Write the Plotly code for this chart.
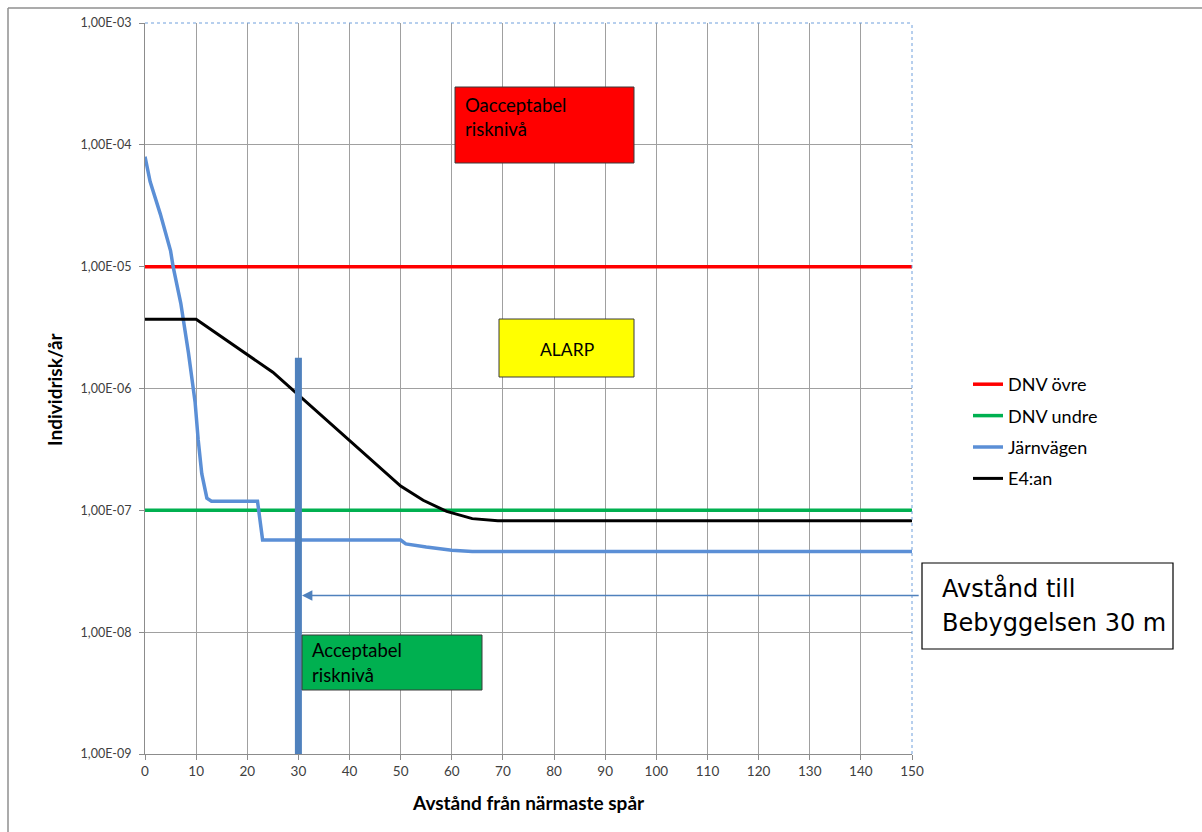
import math
import plotly.graph_objects as go

# Avstånd (m) och individrisk per år
dnv_ovre_x = [0, 150]
dnv_ovre_y = [1e-5, 1e-5]

dnv_undre_x = [0, 150]
dnv_undre_y = [1e-7, 1e-7]

jarnvagen_x = [0, 1, 3, 5, 5.5, 7, 8.5, 9.8, 10.4, 11.1, 12.1, 13, 22, 23,
               50, 51, 55, 60, 64, 150]
jarnvagen_y = [8.0e-5, 5.0e-5, 2.7e-5, 1.35e-5, 1.0e-5, 5.0e-6, 1.96e-6, 7.7e-7,
               3.8e-7, 2.0e-7, 1.26e-7, 1.19e-7, 1.19e-7, 5.7e-8,
               5.7e-8, 5.3e-8, 5.0e-8, 4.7e-8, 4.6e-8, 4.6e-8]

e4_x = [0, 10, 25, 50, 54.4, 59, 64, 69, 150]
e4_y = [3.7e-6, 3.7e-6, 1.36e-6, 1.58e-7, 1.21e-7, 9.8e-8, 8.55e-8, 8.2e-8, 8.2e-8]

# Bebyggelsens avstånd till spåret
bebyggelse_avstand = 30
bebyggelse_x = [bebyggelse_avstand, bebyggelse_avstand]
bebyggelse_y = [1e-9, 1.79e-6]
pil_niva = 2e-8

y_tickvals = [1e-9, 1e-8, 1e-7, 1e-6, 1e-5, 1e-4, 1e-3]
y_ticktext = ["1,00E-09", "1,00E-08", "1,00E-07", "1,00E-06", "1,00E-05",
              "1,00E-04", "1,00E-03"]
x_tickvals = list(range(0, 151, 10))

FONT = "Lato"
W, H = 1202, 832
ML, MR, MT, MB = 145, 290, 23, 78
PW, PH = W - ML - MR, H - MT - MB


def px(xp):
    return (xp - ML) / PW


def py(yp):
    return (H - MB - yp) / PH


fig = go.Figure()

fig.add_trace(go.Scatter(x=dnv_ovre_x, y=dnv_ovre_y, mode="lines", name="DNV övre",
                         legendgroup="a", line=dict(color="#FF0000", width=3.5)))
fig.add_trace(go.Scatter(x=dnv_undre_x, y=dnv_undre_y, mode="lines", name="DNV undre",
                         legendgroup="b", line=dict(color="#00B050", width=3.5)))
fig.add_trace(go.Scatter(x=jarnvagen_x, y=jarnvagen_y, mode="lines", name="Järnvägen",
                         legendgroup="c", line=dict(color="#5B8FD6", width=3.5)))
fig.add_trace(go.Scatter(x=e4_x, y=e4_y, mode="lines", name="E4:an",
                         legendgroup="d", line=dict(color="#000000", width=3)))
fig.add_trace(go.Scatter(x=bebyggelse_x, y=bebyggelse_y, mode="lines", showlegend=False,
                         line=dict(color="#4F81BD", width=7), hoverinfo="skip"))

shapes = []
# outer chart frame
frame_x = px(8)
frame_y = py(8)
shapes.append(dict(type="line", xref="paper", yref="paper", x0=frame_x, x1=frame_x,
                   y0=py(H + 5), y1=frame_y, line=dict(color="#8f8f8f", width=1.5)))
shapes.append(dict(type="line", xref="paper", yref="paper", x0=frame_x, x1=px(W + 5),
                   y0=frame_y, y1=frame_y, line=dict(color="#8f8f8f", width=1.5)))
# dashed plot-area edge (top and right)
shapes.append(dict(type="line", xref="paper", yref="paper", x0=0, x1=1, y0=1, y1=1,
                   line=dict(color="#6f9fdc", width=1, dash="dot"), layer="above"))
shapes.append(dict(type="line", xref="paper", yref="paper", x0=1, x1=1, y0=0, y1=1,
                   line=dict(color="#6f9fdc", width=1, dash="dot"), layer="above"))

# risk zone boxes
boxes = [
    (455, 634, 87, 163, "#FF0000"),
    (499, 634, 319, 377, "#FFFF00"),
    (302, 482, 635, 690, "#00B050"),
]
for x0, x1, y0, y1, col in boxes:
    shapes.append(dict(type="rect", xref="paper", yref="paper",
                       x0=px(x0), x1=px(x1), y0=py(y1), y1=py(y0),
                       fillcolor=col, line=dict(color="#3a3a3a", width=1), layer="above"))
# callout box
shapes.append(dict(type="rect", xref="paper", yref="paper",
                   x0=px(922), x1=px(1173), y0=py(649), y1=py(563),
                   fillcolor="white", line=dict(color="#000000", width=1.2), layer="above"))

annotations = []


def text_line(t, xp, yp, size, family=FONT, xanchor="left"):
    annotations.append(dict(text=t, xref="paper", yref="paper", x=px(xp), y=py(yp),
                            xanchor=xanchor, yanchor="middle", showarrow=False,
                            font=dict(family=family, size=size, color="#000000")))


text_line("Oacceptabel", 463, 105, 18.5)
text_line("risknivå", 463, 129, 18.5)
text_line("ALARP", 567, 349, 17.5, xanchor="center")
text_line("Acceptabel", 310, 650, 18.5)
text_line("risknivå", 310, 675, 18.5)
text_line("Avstånd till", 940, 588, 24, family="DejaVu Sans")
text_line("Bebyggelsen 30 m", 940, 623, 24, family="DejaVu Sans")

# arrow from callout to the building line
annotations.append(dict(text="", x=bebyggelse_avstand + 0.7, y=math.log10(pil_niva),
                        xref="x", yref="y", ax=151.6, ay=math.log10(pil_niva),
                        axref="x", ayref="y", showarrow=True, arrowhead=2,
                        arrowsize=1.6, arrowwidth=1.3, arrowcolor="#4F81BD", standoff=0))

# axis titles
annotations.append(dict(text="<b>Avstånd från närmaste spår</b>", xref="paper", yref="paper",
                        x=px(528), y=py(802), xanchor="center", yanchor="middle",
                        showarrow=False, font=dict(family=FONT, size=19, color="#000000")))
annotations.append(dict(text="<b>Individrisk/år</b>", xref="paper", yref="paper",
                        x=px(54), y=py(389), xanchor="center", yanchor="middle",
                        textangle=-90, showarrow=False,
                        font=dict(family=FONT, size=19, color="#000000")))

fig.update_layout(
    width=W, height=H,
    margin=dict(l=ML, r=MR, t=MT, b=MB),
    paper_bgcolor="white", plot_bgcolor="white",
    font=dict(family=FONT, color="#000000"),
    shapes=shapes, annotations=annotations,
    legend=dict(x=px(968), y=py(366), xanchor="left", yanchor="top",
                font=dict(family=FONT, size=18, color="#000000"),
                tracegroupgap=5, bgcolor="rgba(0,0,0,0)"),
    xaxis=dict(range=[0, 150], tickvals=x_tickvals, ticks="outside", ticklen=5,
               tickcolor="#8c8c8c", showline=True, linecolor="#8c8c8c", linewidth=1,
               showgrid=True, gridcolor="#a0a0a0", gridwidth=1, zeroline=False,
               tickfont=dict(family=FONT, size=13.5, color="#404040")),
    yaxis=dict(type="log", range=[-9, -3], tickvals=y_tickvals, ticktext=y_ticktext,
               ticks="outside", ticklen=5, tickcolor="#8c8c8c", showline=True,
               linecolor="#8c8c8c", linewidth=1, showgrid=True, gridcolor="#a0a0a0",
               gridwidth=1, zeroline=False, ticklabelstandoff=5,
               tickfont=dict(family=FONT, size=12.5, color="#404040")),
)

fig.write_html("out.html")
